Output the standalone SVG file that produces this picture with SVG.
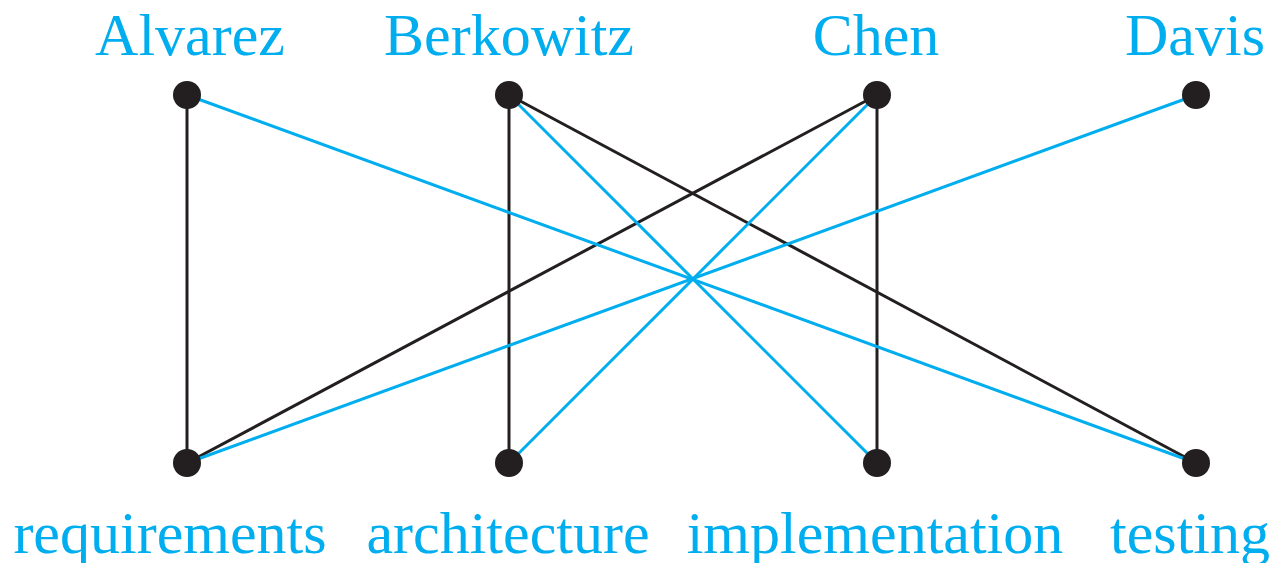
<svg xmlns="http://www.w3.org/2000/svg" width="1283" height="563" viewBox="0 0 1283 563">
  <style>
    .lbl { font-family: "Liberation Serif", "Times New Roman", serif; font-size: 60px; fill: #00aeef; }
    .dot { fill: #231f20; }
    .k { stroke: #231f20; stroke-width: 3; fill: none; }
    .b { stroke: #00aeef; stroke-width: 3; fill: none; }
  </style>
  <rect width="1283" height="563" fill="#ffffff"/>

  <!-- edges between people and tasks -->
  <g id="connectors">
    <line class="k" x1="187" y1="95" x2="187" y2="463"/>
    <line class="k" x1="509" y1="95" x2="509" y2="463"/>
    <line class="k" x1="509" y1="95" x2="1196" y2="463"/>
    <line class="k" x1="877" y1="95" x2="187" y2="463"/>
    <line class="k" x1="877" y1="95" x2="877" y2="463"/>
    <line class="b" x1="187" y1="95" x2="1196" y2="463"/>
    <line class="b" x1="509" y1="95" x2="877" y2="463"/>
    <line class="b" x1="877" y1="95" x2="509" y2="463"/>
    <line class="b" x1="1196" y1="95" x2="187" y2="463"/>
  </g>

  <!-- people -->
  <g id="alvarez">
    <circle class="dot" cx="187" cy="95" r="14"/>
    <text class="lbl" x="190" y="55" text-anchor="middle">Alvarez</text>
  </g>
  <g id="berkowitz">
    <circle class="dot" cx="509" cy="95" r="14"/>
    <text class="lbl" x="509" y="55" text-anchor="middle">Berkowitz</text>
  </g>
  <g id="chen">
    <circle class="dot" cx="877" cy="95" r="14"/>
    <text class="lbl" x="876" y="55" text-anchor="middle">Chen</text>
  </g>
  <g id="davis">
    <circle class="dot" cx="1196" cy="95" r="14"/>
    <text class="lbl" x="1195" y="55" text-anchor="middle">Davis</text>
  </g>

  <!-- tasks -->
  <g id="requirements">
    <circle class="dot" cx="187" cy="463" r="14"/>
    <text class="lbl" x="170" y="553" text-anchor="middle">requirements</text>
  </g>
  <g id="architecture">
    <circle class="dot" cx="509" cy="463" r="14"/>
    <text class="lbl" x="508" y="553" text-anchor="middle">architecture</text>
  </g>
  <g id="implementation">
    <circle class="dot" cx="877" cy="463" r="14"/>
    <text class="lbl" x="875" y="553" text-anchor="middle">implementation</text>
  </g>
  <g id="testing">
    <circle class="dot" cx="1196" cy="463" r="14"/>
    <text class="lbl" x="1190" y="553" text-anchor="middle">testing</text>
  </g>
</svg>
